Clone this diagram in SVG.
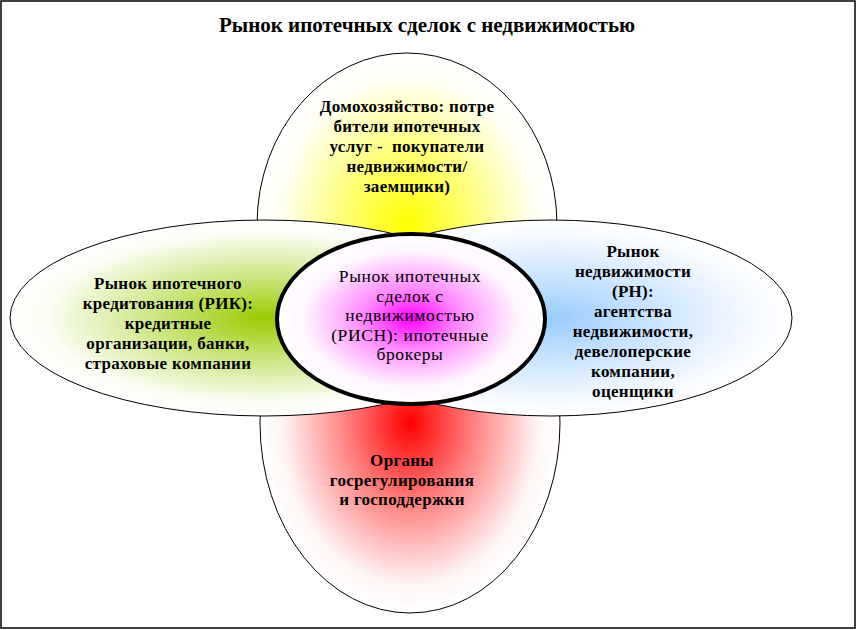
<svg xmlns="http://www.w3.org/2000/svg" width="857" height="630" viewBox="0 0 857 630">
<style>
.ol{stroke:#000;stroke-width:1}
.t{font-family:"Liberation Serif","Times New Roman","DejaVu Serif","Noto Serif",serif;font-size:17px;font-weight:bold;letter-spacing:0.3px;fill:#000;text-anchor:middle}
.c{font-family:"Liberation Serif","Times New Roman","DejaVu Serif","Noto Serif",serif;font-size:17.5px;letter-spacing:0.6px;fill:#000;text-anchor:middle}
.h{font-family:"Liberation Serif","Times New Roman","DejaVu Serif","Noto Serif",serif;font-size:21px;font-weight:bold;fill:#000;text-anchor:middle}
</style>
<defs>
<radialGradient id="gy" cx="0.5" cy="0.5" r="0.5">
<stop offset="0" stop-color="#ffff00"/><stop offset="0.4" stop-color="#ffff70"/><stop offset="0.85" stop-color="#fffff4"/><stop offset="1" stop-color="#ffffff"/>
</radialGradient>
<radialGradient id="gg" cx="0.5" cy="0.5" r="0.5">
<stop offset="0" stop-color="#99cc00"/><stop offset="0.4" stop-color="#c8e47a"/><stop offset="0.85" stop-color="#fafdf2"/><stop offset="1" stop-color="#ffffff"/>
</radialGradient>
<radialGradient id="gb" cx="0.5" cy="0.5" r="0.5">
<stop offset="0" stop-color="#99ccff"/><stop offset="0.4" stop-color="#c8e3ff"/><stop offset="0.85" stop-color="#f6faff"/><stop offset="1" stop-color="#ffffff"/>
</radialGradient>
<radialGradient id="gr" cx="0.5" cy="0.5" r="0.5">
<stop offset="0" stop-color="#ff0000"/><stop offset="0.4" stop-color="#ff7a7a"/><stop offset="0.85" stop-color="#fff4f4"/><stop offset="1" stop-color="#ffffff"/>
</radialGradient>
<radialGradient id="gm" cx="0.5" cy="0.5" r="0.5">
<stop offset="0" stop-color="#ff00ff"/><stop offset="0.35" stop-color="#ff88ff"/><stop offset="0.8" stop-color="#fff6ff"/><stop offset="1" stop-color="#ffffff"/>
</radialGradient>
</defs>
<rect x="1" y="1" width="854" height="627" fill="#fff" stroke="#000" stroke-width="1.5"/>
<text class="h" x="427" y="32">Рынок ипотечных сделок с недвижимостью</text>
<g id="top">
<ellipse cx="407" cy="225" rx="150" ry="172" fill="url(#gy)" class="ol"/>
<text class="t"><tspan x="407" y="112">Домохозяйство: потре</tspan><tspan x="407" y="132">бители ипотечных</tspan><tspan x="407" y="152">услуг - &#160;покупатели</tspan><tspan x="407" y="172">недвижимости/</tspan><tspan x="407" y="192">заемщики)</tspan></text>
</g>
<g id="bottom">
<ellipse cx="410" cy="423" rx="150" ry="190" fill="url(#gr)" class="ol"/>
<text class="t"><tspan x="402" y="466">Органы</tspan><tspan x="402" y="486">госрегулирования</tspan><tspan x="402" y="505">и господдержки</tspan></text>
</g>
<g id="left">
<ellipse cx="264" cy="318" rx="254" ry="98" fill="url(#gg)" class="ol"/>
<text class="t"><tspan x="168" y="289">Рынок ипотечного</tspan><tspan x="168" y="309">кредитования (РИК):</tspan><tspan x="168" y="329">кредитные</tspan><tspan x="168" y="349">организации, банки,</tspan><tspan x="168" y="369">страховые компании</tspan></text>
</g>
<g id="right">
<ellipse cx="551" cy="318" rx="241" ry="98" fill="url(#gb)" class="ol"/>
<text class="t"><tspan x="633" y="257">Рынок</tspan><tspan x="633" y="277">недвижимости</tspan><tspan x="633" y="297">(РН):</tspan><tspan x="633" y="317">агентства</tspan><tspan x="633" y="337">недвижимости,</tspan><tspan x="633" y="357">девелоперские</tspan><tspan x="633" y="377">компании,</tspan><tspan x="633" y="397">оценщики</tspan></text>
</g>
<g id="center">
<ellipse cx="411" cy="319" rx="134" ry="85" fill="url(#gm)" stroke="#000" stroke-width="4"/>
<text class="c"><tspan x="410" y="282">Рынок ипотечных</tspan><tspan x="410" y="302">сделок с</tspan><tspan x="410" y="321">недвижимостью</tspan><tspan x="410" y="341">(РИСН): ипотечные</tspan><tspan x="410" y="360">брокеры</tspan></text>
</g>
<g id="connectors"/>
</svg>
